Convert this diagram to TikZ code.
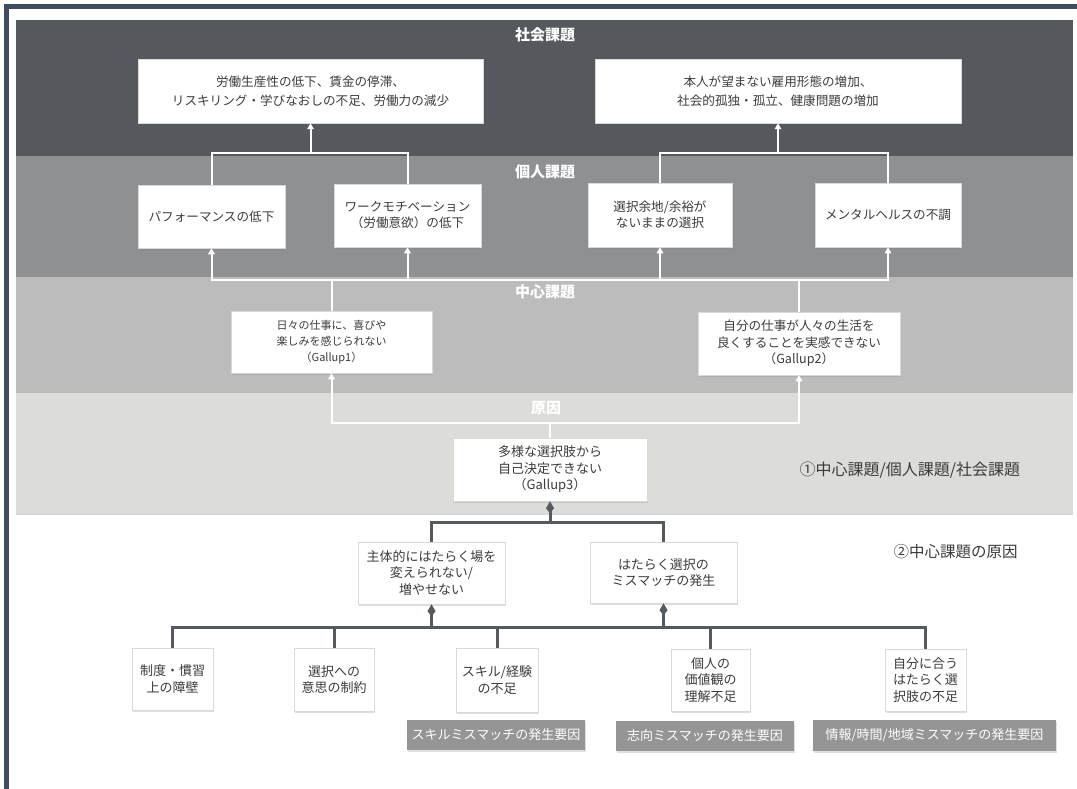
\documentclass[tikz,border=0pt]{standalone}
\usepackage{fontspec}
\setmainfont{Noto Sans CJK JP}
\usetikzlibrary{arrows.meta,shadows}
\definecolor{framec}{HTML}{3E4C5F}
\definecolor{bandA}{HTML}{55585D}
\definecolor{bandB}{HTML}{8F9092}
\definecolor{bandC}{HTML}{BBBCBB}
\definecolor{bandD}{HTML}{DCDCD8}
\definecolor{dline}{HTML}{555A60}
\definecolor{lblc}{HTML}{959595}
\definecolor{txtc}{HTML}{3C3C3C}
\begin{document}
\begin{tikzpicture}[x=1pt,y=-1pt,
  box/.style={fill=white, draw=black!15, line width=0.5pt, inner sep=0pt, align=center, text=txtc,
    font=\fontsize{13}{16.5}\selectfont,
    drop shadow={opacity=0.25, shadow xshift=1pt, shadow yshift=-1.5pt}},
  lblbox/.style={fill=lblc, inner sep=0pt, align=center, text=white,
    font=\fontsize{13}{16}\selectfont,
    drop shadow={opacity=0.25, shadow xshift=1pt, shadow yshift=-1.5pt}},
  bandlbl/.style={text=white, font=\bfseries\fontsize{15}{18}\selectfont},
  note/.style={anchor=west, text=txtc, font=\fontsize{15.5}{18}\selectfont},
  wl/.style={draw=white, line width=2pt},
  wa/.style={wl, -{Triangle[length=6pt,width=6.5pt]}},
  dl/.style={draw=dline, line width=3pt},
  da/.style={dl, -{Kite[length=12pt,width=8pt,inset=5pt]}}
]
\useasboundingbox (0,0) rectangle (1077,789);
\fill[white] (0,0) rectangle (1077,789);
% frame
\fill[framec] (4,4) rectangle (1077,9);
\fill[framec] (4,4) rectangle (9,789);
% bands
\path[fill=bandD, drop shadow={opacity=0.3, shadow xshift=0pt, shadow yshift=-2pt}] (16,393) rectangle (1073,513);
\fill[bandA] (16,20) rectangle (1073,156);
\fill[bandB] (16,156) rectangle (1073,277);
\fill[bandC] (16,277) rectangle (1073,393);
% band labels
\node[bandlbl] (LA) at (545,35) {社会課題};
\node[bandlbl] (LB) at (545,172) {個人課題};
\node[bandlbl] (LC) at (545,292) {中心課題};
\node[bandlbl] (LD) at (546,408) {原因};
% top boxes
\node[box, minimum width=345pt, minimum height=64pt, font=\fontsize{12.6}{18.5}\selectfont] (t1) at (310.5,91)
  {労働生産性の低下、賃金の停滞、\\リスキリング・学びなおしの不足、労働力の減少};
\node[box, minimum width=366pt, minimum height=64pt, font=\fontsize{12.6}{18.5}\selectfont] (t2) at (778,91)
  {本人が望まない雇用形態の増加、\\社会的孤独・孤立、健康問題の増加};
% individual
\node[box, minimum width=147pt, minimum height=63pt, font=\fontsize{12.6}{16}\selectfont] (i1) at (211.5,216.5) {パフォーマンスの低下};
\node[box, minimum width=147pt, minimum height=63pt, font=\fontsize{12.6}{16}\selectfont] (i2) at (407.5,215.5) {ワークモチベーション\\（労働意欲）の低下};
\node[box, minimum width=144pt, minimum height=64pt, font=\fontsize{12.6}{16}\selectfont] (i3) at (660,215) {選択余地/余裕が\\ないままの選択};
\node[box, minimum width=146pt, minimum height=64pt, font=\fontsize{12.6}{16}\selectfont] (i4) at (888,215) {メンタルヘルスの不調};
% core
\node[box, minimum width=201pt, minimum height=62pt, font=\fontsize{11}{16}\selectfont] (g1) at (331.5,342) {日々の仕事に、喜びや\\楽しみを感じられない\\（Gallup1）};
\node[box, minimum width=202pt, minimum height=63pt, font=\fontsize{12.6}{16.5}\selectfont] (g2) at (799,343.5) {自分の仕事が人々の生活を\\良くすることを実感できない\\（Gallup2）};
\node[box, minimum width=194pt, minimum height=63pt] (g3) at (550,469.5) {多様な選択肢から\\自己決定できない\\（Gallup3）};
% notes
\node[note, font=\fontsize{16}{18}\selectfont] (n1) at (796,470) {①中心課題/個人課題/社会課題};
\node[note] (n2) at (890,552) {②中心課題の原因};
% middle causes
\node[box, minimum width=147pt, minimum height=62pt] (m1) at (431.5,573) {主体的にはたらく場を\\変えられない/\\増やせない};
\node[box, minimum width=147pt, minimum height=61pt] (m2) at (663.5,572.5) {はたらく選択の\\ミスマッチの発生};
% bottom causes
\node[box, minimum width=81pt, minimum height=62pt] (b1) at (172.5,679) {制度・慣習\\上の障壁};
\node[box, minimum width=80pt, minimum height=63pt] (b2) at (334,679.5) {選択への\\意思の制約};
\node[box, minimum width=82pt, minimum height=64pt] (b3) at (497,680) {スキル/経験\\の不足};
\node[box, minimum width=79pt, minimum height=62pt] (b4) at (710.5,680) {個人の\\価値観の\\理解不足};
\node[box, minimum width=81pt, minimum height=62pt] (b5) at (925.5,680) {自分に合う\\はたらく選\\択肢の不足};
% gray labels
\node[lblbox, minimum width=178pt, minimum height=30pt] (l1) at (496,735) {スキルミスマッチの発生要因};
\node[lblbox, minimum width=178pt, minimum height=30pt] (l2) at (705,736) {志向ミスマッチの発生要因};
\node[lblbox, minimum width=243pt, minimum height=31pt] (l3) at (934.5,735.5) {情報/時間/地域ミスマッチの発生要因};
% junction coordinates
\coordinate (j1) at (310.5,153);
\coordinate (j2) at (778,153);
\coordinate (c1) at (331.5,280);
\coordinate (c2) at (799,280);
\coordinate (r) at (550,423);
\coordinate (d) at (550,522);
\coordinate (e1) at (431.5,627);
\coordinate (e2) at (663.5,627);
% white connectors
\draw[wl] (i1.north) |- (j1) -| (i2.north);
\draw[wa] (j1) -- (t1.south);
\draw[wl] (i3.north) |- (j2) -| (i4.north);
\draw[wa] (j2) -- (t2.south);
\draw[wl] (g1.north) -- (c1);
\draw[wl] (g2.north) -- (c2);
\draw[wl] (c1) -- (c2);
\draw[wa] (c1) -| (i1.south);
\draw[wa] (c1) -| (i2.south);
\draw[wa] (c2) -| (i3.south);
\draw[wa] (c2) -| (i4.south);
\draw[wl] (g3.north) -- (r);
\draw[wa] (r) -| (g1.south);
\draw[wa] (r) -| (g2.south);
% dark connectors
\draw[dl] (m1.north) |- (d) -| (m2.north);
\draw[da] (d) -- (g3.south);
\draw[dl] (b1.north) |- (e1) -- (e2) -| (b5.north);
\draw[dl] (b2.north) -- (b2.north |- e1);
\draw[dl] (b3.north) -- (b3.north |- e1);
\draw[dl] (b4.north) -- (b4.north |- e1);
\draw[da] (e1) -- (m1.south);
\draw[da] (e2) -- (m2.south);
\end{tikzpicture}
\end{document}
